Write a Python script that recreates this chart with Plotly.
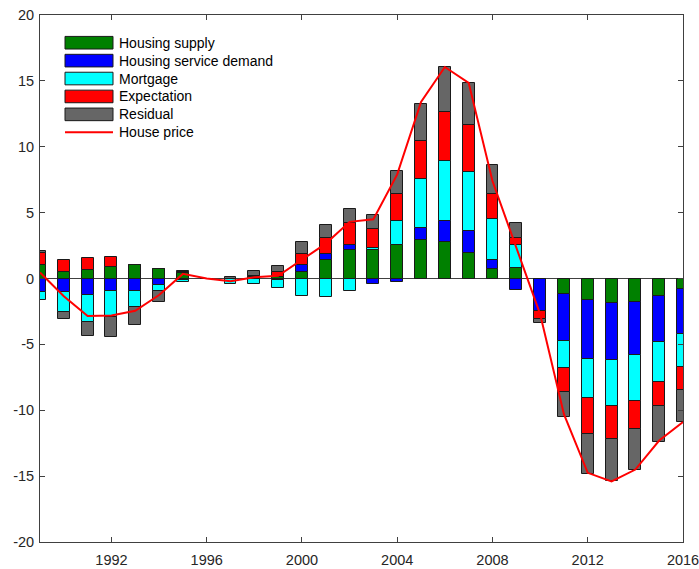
import plotly.graph_objects as go

# Annual historical decomposition of real house price growth (percent)
years = list(range(1989, 2017))

housing_supply = [1.06, 0.53, 0.68, 0.86, 1.06, 0.71, 0.40, 0.0, 0.0, 0.10,
                  0.10, 0.53, 1.42, 2.18, 2.13, 2.53, 2.91, 2.76, 1.95, 0.71,
                  0.76, -0.05, -1.16, -1.62, -1.87, -1.80, -1.29, -0.78]
housing_service_demand = [-1.04, -1.04, -1.24, -0.96, -0.96, -0.48, -0.12, 0.0, 0.0, 0.0,
                          -0.15, 0.46, 0.41, 0.38, -0.41, -0.30, 0.89, 1.59, 1.65, 0.68,
                          -0.89, -2.38, -3.62, -4.48, -4.35, -4.00, -3.54, -3.42]
mortgage = [-0.56, -1.47, -2.08, -1.97, -1.22, -0.46, -0.12, 0.0, -0.38, -0.45,
            -0.55, -1.34, -1.42, -0.96, 0.18, 1.82, 3.72, 4.58, 4.51, 3.11,
            1.82, 0.0, -2.00, -2.99, -3.42, -3.47, -3.04, -2.48]
expectation = [0.89, 0.91, 0.86, 0.76, 0.0, 0.0, 0.12, 0.0, 0.0, 0.10,
               0.40, 0.89, 1.27, 1.65, 1.47, 2.03, 2.94, 3.72, 3.54, 1.95,
               0.46, -0.63, -1.85, -2.71, -2.53, -2.15, -1.77, -1.77]
residual = [0.10, -0.56, -1.06, -1.52, -1.34, -0.81, 0.08, 0.0, 0.15, 0.35,
            0.45, 0.89, 0.94, 1.04, 1.01, 1.77, 2.78, 3.37, 3.16, 2.15,
            1.19, -0.35, -1.90, -3.04, -3.22, -3.09, -2.78, -2.46]
house_price = [0.45, -1.35, -2.85, -2.80, -2.45, -1.25, 0.35, 0.0, -0.20, 0.10,
               0.20, 1.45, 2.65, 4.30, 4.50, 7.90, 13.40, 16.05, 14.85, 7.40,
               2.40, -2.70, -10.30, -14.75, -15.40, -14.50, -12.30, -10.90]

y_ticks = [-20, -15, -10, -5, 0, 5, 10, 15, 20]
y_tick_text = [str(v) for v in y_ticks]
x_ticks = [1992, 1996, 2000, 2004, 2008, 2012, 2016]

components = [
    ("Housing supply", housing_supply, "#008000"),
    ("Housing service demand", housing_service_demand, "#0000FF"),
    ("Mortgage", mortgage, "#00FFFF"),
    ("Expectation", expectation, "#FF0000"),
    ("Residual", residual, "#666666"),
]
line_name = "House price"
line_color = "#FF0000"

fig = go.Figure()
for name, vals, color in components:
    fig.add_trace(go.Bar(
        x=years, y=vals, name=name, width=0.5,
        marker=dict(color=color, line=dict(color="#1a1a1a", width=1)),
        showlegend=False,
    ))
fig.add_trace(go.Scatter(
    x=years, y=house_price, name=line_name, mode="lines",
    line=dict(color=line_color, width=2), showlegend=False,
))

W, H = 699, 569
L, R, T, B = 40, 683, 15, 541.7
font_family = "Liberation Sans, Arial, sans-serif"


def px(x):
    return (x - L) / (R - L)


def py(y):
    return (B - y) / (B - T)


# Hand-built legend with wide swatches
shapes = []
annotations = []
row0, step, half = 42.7, 17.9, 6.3
entries = [(n, c) for n, _, c in components] + [(line_name, None)]
for i, (name, color) in enumerate(entries):
    cy = row0 + i * step
    if color is not None:
        shapes.append(dict(
            type="rect", xref="paper", yref="paper",
            x0=px(65), x1=px(113), y0=py(cy + half), y1=py(cy - half),
            fillcolor=color, line=dict(color="#1a1a1a", width=1),
        ))
    else:
        shapes.append(dict(
            type="line", xref="paper", yref="paper",
            x0=px(65), x1=px(113), y0=py(cy), y1=py(cy),
            line=dict(color=line_color, width=2),
        ))
    annotations.append(dict(
        xref="paper", yref="paper", x=px(117), y=py(cy),
        xanchor="left", yanchor="middle", showarrow=False,
        text=name, font=dict(family=font_family, size=14, color="#000000"),
    ))

fig.update_layout(
    width=W, height=H,
    margin=dict(l=L, r=W - R, t=T, b=H - B, pad=0, autoexpand=False),
    paper_bgcolor="white", plot_bgcolor="white",
    barmode="relative", bargap=0,
    font=dict(family=font_family, size=14, color="#262626"),
    shapes=shapes, annotations=annotations,
    xaxis=dict(
        range=[1989, 2016], tickvals=x_ticks, ticks="inside", ticklen=5,
        tickcolor="#404040", showline=True, linecolor="#404040", linewidth=1,
        mirror="ticks", showgrid=False, zeroline=False, automargin=False,
        ticklabeloverflow="allow", ticklabelstandoff=5,
        tickfont=dict(size=14.5, color="#262626"),
    ),
    yaxis=dict(
        range=[-20, 20], tickvals=y_ticks, ticktext=y_tick_text,
        ticks="inside", ticklen=5, tickcolor="#404040",
        showline=True, linecolor="#404040", linewidth=1, mirror="ticks",
        showgrid=False, zeroline=True, zerolinecolor="#404040", zerolinewidth=1,
        automargin=False, ticklabeloverflow="allow", ticklabelstandoff=2,
        tickfont=dict(size=14.5, color="#262626"),
    ),
)

fig.write_html("out.html")
